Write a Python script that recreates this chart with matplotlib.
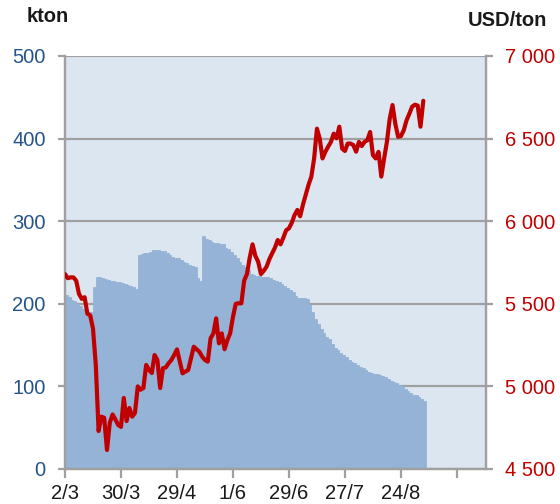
import matplotlib.pyplot as plt
from matplotlib.ticker import FuncFormatter

plt.rcParams['font.family'] = ['Liberation Sans', 'DejaVu Sans']

# stocks, kton (one value per trading day)
stocks = [211, 208, 205, 203, 200, 197, 194, 191, 190, 190,
          220, 233, 232, 231, 230, 229, 228, 227, 226, 226,
          225, 224, 223, 221, 220, 218, 259, 260, 261, 261,
          263, 265, 265, 265, 264, 264, 262, 259, 257, 256,
          255, 253, 251, 249, 247, 246, 244, 231, 228, 282,
          279, 277, 275, 274, 274, 273, 272, 268, 266, 263,
          259, 255, 251, 247, 244, 241, 236, 235, 234, 234,
          233, 233, 232, 231, 229, 227, 226, 224, 222, 219,
          217, 214, 210, 207, 207, 207, 206, 198, 190, 182,
          176, 170, 165, 160, 157, 151, 147, 144, 141, 138,
          135, 132, 130, 128, 126, 124, 122, 120, 118, 116,
          115, 115, 114, 113, 111, 109, 107, 105, 104, 102,
          100, 97, 94, 92, 90, 89, 87, 85, 82]

# price, USD/ton
price = [5680, 5655, 5660, 5660, 5640, 5560, 5530, 5540, 5440, 5430,
         5350, 5130, 4730, 4817, 4810, 4615, 4780, 4830, 4800, 4766,
         4755, 4930, 4790, 4869, 4817, 4840, 5000, 4980, 4990, 5130,
         5100, 5081, 5190, 5160, 4990, 5110, 5115, 5140, 5160, 5190,
         5224, 5150, 5079, 5090, 5099, 5170, 5240, 5225, 5210, 5180,
         5160, 5150, 5291, 5320, 5412, 5261, 5321, 5225, 5280, 5321,
         5420, 5500, 5503, 5503, 5640, 5680, 5780, 5860, 5790, 5755,
         5680, 5700, 5724, 5770, 5805, 5840, 5886, 5860, 5900, 5945,
         5957, 5990, 6037, 6068, 6030, 6100, 6160, 6220, 6269, 6380,
         6560, 6500, 6380, 6420, 6451, 6480, 6530, 6502, 6572, 6440,
         6425, 6470, 6470, 6461, 6421, 6480, 6455, 6480, 6490, 6540,
         6400, 6380, 6420, 6270, 6380, 6480, 6620, 6703, 6590, 6511,
         6515, 6550, 6610, 6650, 6693, 6705, 6700, 6572, 6729]

tick_pos = [0, 20, 40, 60, 80, 100, 120, 140]
tick_labels = ['2/3', '30/3', '29/4', '1/6', '29/6', '27/7', '24/8', '']

grey = '#a0a0a0'
blue_txt = '#24548a'
red = '#c00000'
bar_col = '#95b3d7'

fig = plt.figure(figsize=(5.6, 5.04), dpi=100)
ax = fig.add_axes([65 / 560, 35 / 504, 421 / 560, 413 / 504])
ax.set_facecolor('#dce6f1')

days = list(range(len(stocks)))
# edge in the same colour so no seams show between the bars
ax.bar(days, stocks, width=1.0, align='edge', color=bar_col,
       edgecolor=bar_col, linewidth=0.6, zorder=2)
ax.set_xlim(0, 150.4)
ax.set_ylim(0, 500)
ax.set_yticks([0, 100, 200, 300, 400, 500])
ax.yaxis.grid(True, color=grey, linewidth=1.6, zorder=1)
ax.set_axisbelow(True)
ax.set_xticks(tick_pos)
ax.set_xticklabels(tick_labels)

ax2 = ax.twinx()
ax2.plot(list(range(len(price))), price, color=red, linewidth=3.0,
         solid_joinstyle='round', solid_capstyle='round', zorder=3)
ax2.set_ylim(4500, 7000)
ax2.set_yticks([4500, 5000, 5500, 6000, 6500, 7000])
ax2.yaxis.set_major_formatter(FuncFormatter(lambda v, p: f'{int(v):,}'.replace(',', ' ')))

for a in (ax, ax2):
    for s in a.spines.values():
        s.set_color(grey)
        s.set_linewidth(1.6)
    a.spines['top'].set_visible(False)

ax.tick_params(axis='y', length=5, width=1.6, color=grey, pad=9,
               labelsize=14.5, labelcolor=blue_txt)
ax.tick_params(axis='x', length=6.5, width=1.6, color=grey, pad=4,
               labelsize=14.5, labelcolor='#1a1a1a')
ax2.tick_params(axis='y', length=5, width=1.6, color=grey, pad=9,
                labelsize=14.5, labelcolor=red)

fig.text(27 / 560, 1 - 17 / 504, 'kton', fontsize=14.5, fontweight='bold',
         color='#1a1a1a', va='center', ha='left')
fig.text(547 / 560, 1 - 21 / 504, 'USD/ton', fontsize=14.5, fontweight='bold',
         color='#1a1a1a', va='center', ha='right')

fig.savefig('out.png', dpi=100)
